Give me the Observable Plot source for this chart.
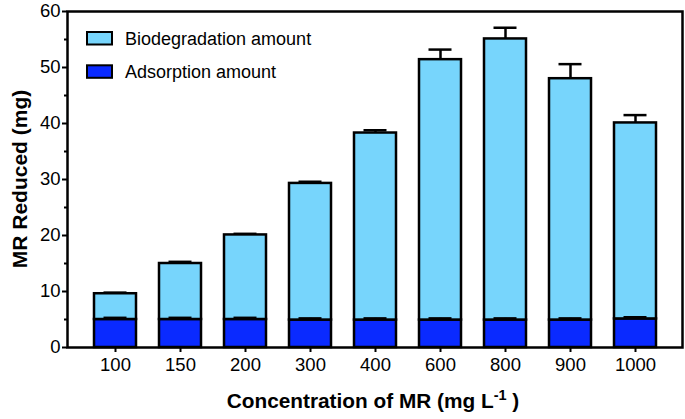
<!DOCTYPE html>
<html>
<head>
<meta charset="utf-8">
<script src="https://cdn.jsdelivr.net/npm/d3@7"></script>
<script src="https://cdn.jsdelivr.net/npm/@observablehq/plot@0.6"></script>
<style>
  html, body { margin: 0; padding: 0; background: #fff; }
  #chart { width: 685px; height: 419px; }
</style>
</head>
<body>
<div id="chart"></div>
<script>
const concentrations = ["100", "150", "200", "300", "400", "600", "800", "900", "1000"];
const adsorption      = [5.0, 5.0, 5.0, 4.9, 4.9, 4.9, 4.9, 4.9, 5.1];
const adsorptionErr   = [0.3, 0.3, 0.3, 0.3, 0.3, 0.3, 0.3, 0.3, 0.3];
const biodegradation  = [4.6, 10.0, 15.1, 24.4, 33.4, 46.5, 50.2, 43.1, 35.0];
const biodegradationErr = [0.2, 0.3, 0.2, 0.3, 0.5, 1.8, 2.0, 2.6, 1.4];
const seriesNames = ["Biodegradation amount", "Adsorption amount"];
const seriesColors = ["#77d5fc", "#0a2aff"];
const yTicks = [0, 10, 20, 30, 40, 50, 60];
const yMinorTicks = [5, 15, 25, 35, 45, 55];

const rows = [];
concentrations.forEach((c, i) => {
  rows.push({c, type: seriesNames[1], y1: 0, y2: adsorption[i], err: adsorptionErr[i]});
  rows.push({c, type: seriesNames[0], y1: adsorption[i], y2: adsorption[i] + biodegradation[i], err: biodegradationErr[i]});
});

const plot = Plot.plot({
  width: 685,
  height: 419,
  marginLeft: 67,
  marginRight: 3,
  marginTop: 11,
  marginBottom: 72,
  style: {fontFamily: "'Liberation Sans', Arial, sans-serif", fontSize: "17.5px", color: "#000", background: "#fff"},
  x: {domain: concentrations, paddingInner: 0.36, paddingOuter: 0.345, label: null},
  y: {domain: [0, 60], label: null},
  color: {domain: seriesNames, range: seriesColors},
  marks: [
    Plot.ruleX(rows, {x: "c", y1: "y2", y2: d => d.y2 + d.err, stroke: "#000", strokeWidth: 2.5}),
    Plot.tickY(rows, {x: "c", y: d => d.y2 + d.err, stroke: "#000", strokeWidth: 2.5, insetLeft: 9.5, insetRight: 9.5}),
    Plot.barY(rows, {x: "c", y1: "y1", y2: "y2", fill: "type", stroke: "#000", strokeWidth: 2.5}),
    Plot.ruleX(rows.filter(d => d.type === seriesNames[1]), {x: "c", y1: "y2", y2: d => d.y2 + d.err, stroke: "#000", strokeWidth: 2.5}),
    Plot.tickY(rows.filter(d => d.type === seriesNames[1]), {x: "c", y: d => d.y2 + d.err, stroke: "#000", strokeWidth: 2.5, insetLeft: 9.5, insetRight: 9.5}),
    Plot.axisY({ticks: yTicks, tickSize: 5, tickPadding: 2, strokeWidth: 2, label: null, fontSize: "18.5px"}),
    Plot.axisY({ticks: yMinorTicks, tickSize: 3, tickFormat: () => "", strokeWidth: 2, label: null}),
    Plot.axisX({tickSize: 5, tickPadding: 5, strokeWidth: 2, label: null, fontSize: "18.5px"}),
    Plot.frame({stroke: "#000", strokeWidth: 2.5})
  ]
});

const svg = d3.select(plot);
// Y axis title
svg.append("text")
  .attr("transform", "translate(27,179) rotate(-90)")
  .attr("text-anchor", "middle")
  .attr("font-weight", "bold")
  .attr("font-size", "21px")
  .attr("font-family", "'Liberation Sans', Arial, sans-serif")
  .attr("fill", "#000")
  .text("MR Reduced (mg)");
// X axis title with superscript
const xt = svg.append("text")
  .attr("x", 373).attr("y", 408)
  .attr("text-anchor", "middle")
  .attr("font-weight", "bold")
  .attr("font-size", "20.8px")
  .attr("font-family", "'Liberation Sans', Arial, sans-serif")
  .attr("fill", "#000");
xt.append("tspan").text("Concentration of MR (mg L");
xt.append("tspan").attr("dy", -8).attr("font-size", "14.5px").text("-1");
xt.append("tspan").attr("dy", 8).text(" )");
// Legend
const leg = svg.append("g")
  .attr("font-family", "'Liberation Sans', Arial, sans-serif")
  .attr("font-size", "18px")
  .attr("text-anchor", "start");
seriesNames.forEach((name, i) => {
  const y0 = 32 + i * 33.3;
  leg.append("rect").attr("x", 87).attr("y", y0).attr("width", 25).attr("height", 12.5)
    .attr("fill", seriesColors[i]).attr("stroke", "#000").attr("stroke-width", 2);
  leg.append("text").attr("x", 125).attr("y", y0 + 13).attr("text-anchor", "start").attr("fill", "#000").text(name);
});

document.getElementById("chart").appendChild(plot);
</script>
</body>
</html>
